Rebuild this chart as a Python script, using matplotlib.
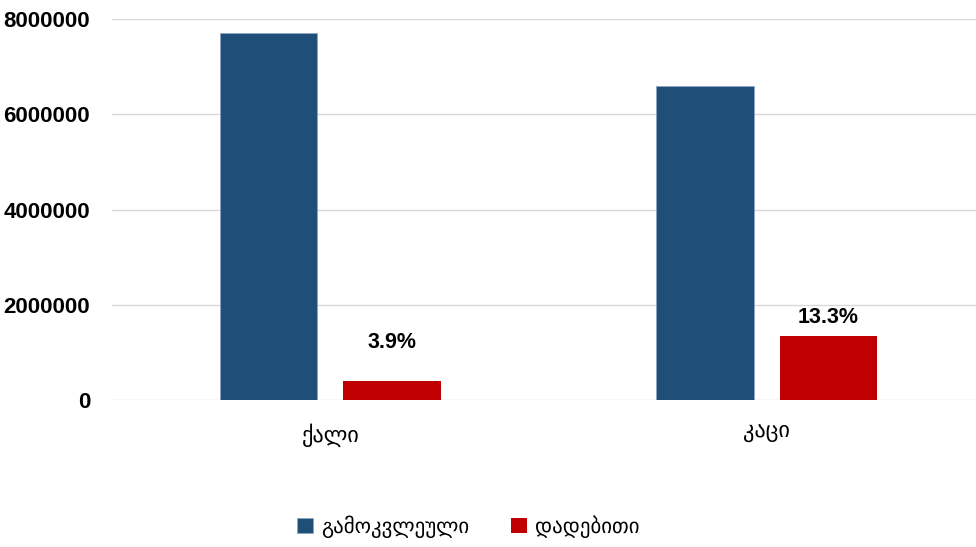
import numpy as np
import matplotlib.pyplot as plt

# data
categories = ['ქალი', 'კაცი']
surveyed = [7710000, 6600000]
positive = [400000, 1340000]
pct_labels = ['3.9%', '13.3%']
label_offsets = [20, 6]  # points above the red bar top
series_names = ['გამოკვლეული', 'დადებითი']

plt.rcParams['font.family'] = ['Liberation Sans', 'DejaVu Sans']

fig = plt.figure(figsize=(9.76, 5.47), dpi=100)
ax = fig.add_axes([0.115, 0.269, 0.885, 0.696])

x = np.arange(len(categories))
w = 0.224
off = 0.142
b1 = ax.bar(x - off, surveyed, w, color='#1f4e79', edgecolor='#8ea6c0', linewidth=0.6,
            label=series_names[0], zorder=3)
b2 = ax.bar(x + off, positive, w, color='#c00000', label=series_names[1], zorder=3)

# percentage labels on the red bars
for xi, yi, txt, dy in zip(x + off, positive, pct_labels, label_offsets):
    ax.annotate(txt, (xi, yi), xytext=(0, dy), textcoords='offset points',
                ha='center', va='bottom', fontsize=15.5, fontweight='bold')

ax.set_xlim(-0.5, 1.48)
ax.set_ylim(0, 8000000)
ax.set_yticks(range(0, 8000001, 2000000))
ax.set_yticklabels([str(v) for v in range(0, 8000001, 2000000)],
                   fontsize=16, fontweight='bold')
ax.set_xticks(x)
ax.set_xticklabels(categories, fontsize=16, family=['DejaVu Sans'])
ax.tick_params(axis='y', length=0, pad=16)
ax.tick_params(axis='x', length=0, pad=17)

ax.grid(axis='y', color='#d9d9d9', linewidth=1, zorder=0)
for s in ax.spines.values():
    s.set_visible(False)

fig.legend(handles=[b1, b2], labels=series_names, loc='center',
           bbox_to_anchor=(0.48, 0.037), ncol=2, frameon=False,
           handlelength=0.75, handleheight=0.75, handletextpad=0.4,
           columnspacing=2.0, prop={'family': ['DejaVu Sans'], 'size': 15})

plt.savefig('out.png', dpi=100)
